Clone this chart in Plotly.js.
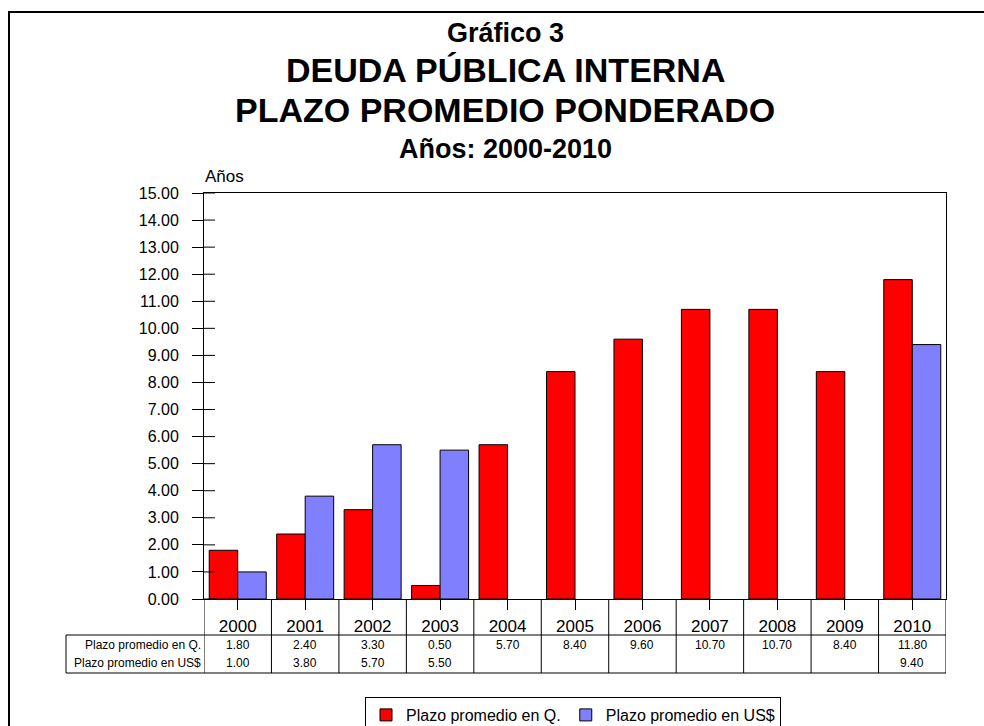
<!DOCTYPE html>
<html>
<head>
<meta charset="utf-8">
<script src="https://cdn.plot.ly/plotly-3.0.1.min.js"></script>
<style>html,body{margin:0;padding:0;background:#fff;}#chart{width:984px;height:726px;}</style>
</head>
<body>
<div id="chart"></div>
<script>
// ---- data ----
var years = ['2000','2001','2002','2003','2004','2005','2006','2007','2008','2009','2010'];
var plazoQ = [1.80, 2.40, 3.30, 0.50, 5.70, 8.40, 9.60, 10.70, 10.70, 8.40, 11.80];
var plazoUS = [1.00, 3.80, 5.70, 5.50, null, null, null, null, null, null, 9.40];
var seriesNames = ['Plazo promedio en Q.', 'Plazo promedio en US$'];
var yTicks = [0,1,2,3,4,5,6,7,8,9,10,11,12,13,14,15];
var titleLines = ['Gráfico 3', 'DEUDA PÚBLICA INTERNA', 'PLAZO PROMEDIO PONDERADO', 'Años: 2000-2010'];
var yUnit = 'Años';

// ---- layout geometry (pixels) ----
var W = 984, H = 726;
var L = 204, R = 946, T = 193, B = 599;
var pw = R - L, ph = B - T;
function px(X){ return (X - L) / pw; }
function py(Y){ return (B - Y) / ph; }
var FONT = '"Liberation Sans", Arial, sans-serif';

var traces = [
  {type:'bar', x: years, y: plazoQ, name: seriesNames[0],
   marker:{color:'#FF0000', line:{color:'#000000', width:1}}, hoverinfo:'x+y'},
  {type:'bar', x: years, y: plazoUS, name: seriesNames[1],
   marker:{color:'#8080FF', line:{color:'#000000', width:1}}, hoverinfo:'x+y'}
];

var shapes = [];
var annotations = [];

// outer frame
shapes.push({type:'rect', xref:'paper', yref:'paper', x0:px(9), x1:px(1100), y0:py(12), y1:py(900),
  line:{color:'#000', width:2}, fillcolor:'rgba(0,0,0,0)', layer:'below'});

// inside half of y ticks (cross ticks)
yTicks.forEach(function(v){
  shapes.push({type:'line', xref:'paper', yref:'y', xsizemode:'pixel', xanchor:0, x0:0, x1:11,
    y0:v, y1:v, line:{color:'#000', width:1}});
});

// data table grid
var tTop = 635, tBot = 673, tLeft = 66;
for (var i = 0; i <= years.length; i++) {
  shapes.push({type:'line', xref:'x', yref:'paper', x0:i-0.5, x1:i-0.5, y0:py(B), y1:py(tBot),
    line:{color:'#000', width:1}});
}
shapes.push({type:'line', xref:'paper', yref:'paper', x0:px(tLeft), x1:1, y0:py(tTop), y1:py(tTop), line:{color:'#000', width:1}});
shapes.push({type:'line', xref:'paper', yref:'paper', x0:px(tLeft), x1:1, y0:py(tBot), y1:py(tBot), line:{color:'#000', width:1}});
shapes.push({type:'line', xref:'paper', yref:'paper', x0:px(tLeft), x1:px(tLeft), y0:py(tTop), y1:py(tBot), line:{color:'#000', width:1}});

// table row labels and values
var rowY = [644.5, 663];
var rowData = [plazoQ, plazoUS];
seriesNames.forEach(function(nm, r){
  annotations.push({xref:'paper', yref:'paper', x:px(L-1), y:py(rowY[r]), xanchor:'right', yanchor:'middle',
    text:nm, showarrow:false, font:{family:FONT, size:12, color:'#000'}});
  rowData[r].forEach(function(v, k){
    if (v === null || v === undefined) return;
    annotations.push({xref:'x', yref:'paper', x:k, y:py(rowY[r]), xanchor:'center', yanchor:'middle',
      text:v.toFixed(2), showarrow:false, font:{family:FONT, size:12, color:'#000'}});
  });
});

// titles
var titleY = [33, 70, 110, 149];
var titleSize = [27, 34, 34, 27];
titleLines.forEach(function(t, k){
  annotations.push({xref:'paper', yref:'paper', x:px(505), y:py(titleY[k]), xanchor:'center', yanchor:'middle',
    text:'<b>'+t+'</b>', showarrow:false, font:{family:FONT, size:titleSize[k], color:'#000'}});
});

// y unit label
annotations.push({xref:'paper', yref:'paper', x:px(203), y:py(176), xanchor:'left', yanchor:'middle',
  text:yUnit, showarrow:false, font:{family:FONT, size:17, color:'#000'}});

var layout = {
  width: W, height: H,
  margin: {l:L, r:W-R, t:T, b:H-B, pad:0, autoexpand:false},
  paper_bgcolor:'#fff', plot_bgcolor:'#fff',
  barmode:'group', bargap:0.155, bargroupgap:0,
  showlegend:true,
  legend:{orientation:'h', x:px(365), y:py(697), xanchor:'left', yanchor:'top',
    bgcolor:'#fff', bordercolor:'#000', borderwidth:1, itemwidth:30,
    font:{family:FONT, size:16, color:'#000'}, traceorder:'normal'},
  xaxis:{type:'category', categoryorder:'array', categoryarray:years, range:[-0.5, years.length-0.5],
    showline:true, linecolor:'#000', linewidth:1, mirror:true, automargin:false,
    ticks:'outside', ticklen:10, tickcolor:'#000', tickwidth:1, showgrid:false, zeroline:false,
    tickfont:{family:FONT, size:17, color:'#000'}, ticklabelstandoff:2, fixedrange:true},
  yaxis:{range:[0,15], tickvals:yTicks, tickformat:'.2f', showline:true, linecolor:'#000', linewidth:1, mirror:true, automargin:false,
    ticks:'outside', ticklen:11, tickcolor:'#000', tickwidth:1, showgrid:false, zeroline:false,
    tickfont:{family:FONT, size:16, color:'#000'}, ticklabelstandoff:10, fixedrange:true},
  shapes: shapes,
  annotations: annotations
};

Plotly.newPlot('chart', traces, layout, {displayModeBar:false, staticPlot:true});
</script>
</body>
</html>
